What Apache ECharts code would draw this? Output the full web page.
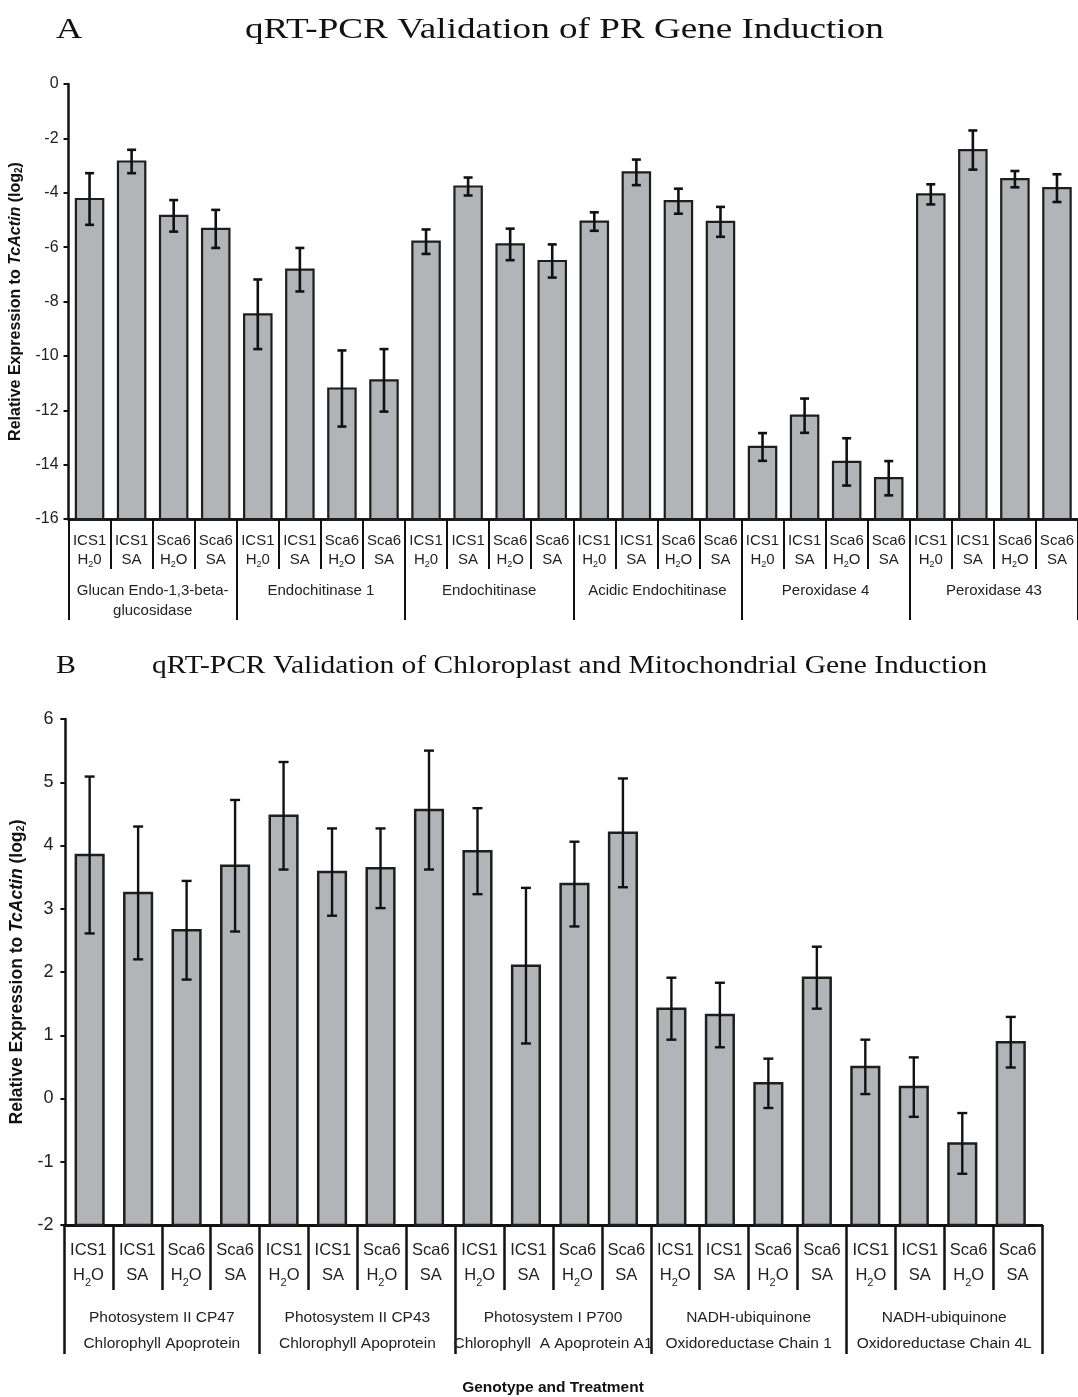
<!DOCTYPE html>
<html>
<head>
<meta charset="utf-8">
<script src="https://cdn.jsdelivr.net/npm/echarts@6/dist/echarts.min.js"></script>
<style>
  html, body { margin: 0; padding: 0; background: #fff; }
  #chart { width: 1078px; height: 1397px; }
</style>
</head>
<body>
<div id="chart"></div>
<script>
// Panel A: PR genes
const genesA = [
  'Glucan Endo-1,3-beta-\nglucosidase',
  'Endochitinase 1',
  'Endochitinase',
  'Acidic Endochitinase',
  'Peroxidase 4',
  'Peroxidase 43'
];
const conditionsA = ['ICS1\nH_20', 'ICS1\nSA', 'Sca6\nH_2O', 'Sca6\nSA'];
const valuesA = [
  -4.23, -2.85, -4.85, -5.33,
  -8.47, -6.83, -11.2, -10.9,
  -5.80, -3.77, -5.90, -6.51,
  -5.06, -3.25, -4.31, -5.07,
  -13.35, -12.2, -13.9, -14.5,
  -4.06, -2.43, -3.50, -3.83
];
const errorsA = [
  0.95, 0.43, 0.58, 0.70,
  1.28, 0.80, 1.40, 1.15,
  0.45, 0.33, 0.58, 0.61,
  0.34, 0.47, 0.46, 0.55,
  0.51, 0.63, 0.87, 0.63,
  0.37, 0.72, 0.30, 0.51
];
const ticksA = { min: -16, max: 0, interval: 2 };

// Panel B: chloroplast and mitochondrial genes
const genesB = [
  'Photosystem II CP47\nChlorophyll Apoprotein',
  'Photosystem II CP43\nChlorophyll Apoprotein',
  'Photosystem I P700\nChlorophyll  A Apoprotein A1',
  'NADH-ubiquinone\nOxidoreductase Chain 1',
  'NADH-ubiquinone\nOxidoreductase Chain 4L'
];
const conditionsB = ['ICS1\nH_2O', 'ICS1\nSA', 'Sca6\nH_2O', 'Sca6\nSA'];
const valuesB = [
  3.85, 3.25, 2.66, 3.68,
  4.47, 3.58, 3.64, 4.56,
  3.91, 2.10, 3.39, 4.20,
  1.42, 1.32, 0.24, 1.91,
  0.50, 0.18, -0.71, 0.89
];
const errorsB = [
  1.24, 1.05, 0.78, 1.04,
  0.85, 0.69, 0.63, 0.94,
  0.68, 1.23, 0.67, 0.86,
  0.49, 0.51, 0.39, 0.49,
  0.43, 0.47, 0.48, 0.40
];
const ticksB = { min: -2, max: 6, interval: 1 };

const titleA = 'qRT-PCR Validation of PR Gene Induction';
const titleB = 'qRT-PCR Validation of Chloroplast and Mitochondrial Gene Induction';
const xNameB = 'Genotype and Treatment';

const SANS = '"Liberation Sans", Arial, sans-serif';
const SERIF = '"Liberation Serif", "Times New Roman", serif';

// one category per bar, repeating the four conditions for every gene
function expand(genes, conds) {
  const out = [];
  genes.forEach(() => conds.forEach(c => out.push(c)));
  return out;
}
const catsA = expand(genesA, conditionsA);
const catsB = expand(genesB, conditionsB);

// "_2" marks a subscript digit
function condFormatter(v) {
  return v.split('\n').map(line => {
    const m = line.match(/^(.*)_(\d)(.*)$/);
    if (m) return '{t|' + m[1] + '}{s|' + m[2] + '}{t|' + m[3] + '}';
    return '{t|' + line + '}';
  }).join('\n');
}

const Y_NAME = '{b|Relative Expression to }{i|TcActin}{b| (log}{s|2}{b|)}';
function yNameRich(size) {
  return {
    b: { fontFamily: SANS, fontWeight: 'bold', fontSize: size, color: '#111' },
    i: { fontFamily: SANS, fontWeight: 'bold', fontStyle: 'italic', fontSize: size, color: '#111' },
    s: { fontFamily: SANS, fontWeight: 'bold', fontSize: Math.round(size * 0.62), color: '#111', verticalAlign: 'bottom', padding: [Math.round(size * 0.45), 0, 0, 0] }
  };
}

// bar from the axis floor up to the value, plus a capped error bar
function makeRender(floor, widthRatio, lineW, capHalf, edgeW) {
  return function (params, api) {
    const i = api.value(0);
    const v = api.value(1);
    const e = api.value(2);
    const base = api.coord([i, floor]);
    const top = api.coord([i, v]);
    const w = api.size([1, 0])[0] * widthRatio;
    const hi = api.coord([i, v + e]);
    const lo = api.coord([i, v - e]);
    const x = top[0];
    const ls = { stroke: '#111', lineWidth: lineW };
    return {
      type: 'group',
      children: [
        {
          type: 'rect',
          shape: { x: x - w / 2, y: top[1], width: w, height: base[1] - top[1] },
          style: { fill: '#b3b4b8', stroke: '#1e1e1e', lineWidth: edgeW }
        },
        { type: 'line', shape: { x1: x, y1: hi[1], x2: x, y2: lo[1] }, style: ls },
        { type: 'line', shape: { x1: x - capHalf, y1: hi[1], x2: x + capHalf, y2: hi[1] }, style: ls },
        { type: 'line', shape: { x1: x - capHalf, y1: lo[1], x2: x + capHalf, y2: lo[1] }, style: ls }
      ]
    };
  };
}

const axisLine = { show: true, onZero: false, lineStyle: { color: '#111', width: 2.5 } };
const hidden = { show: false };

const chart = echarts.init(document.getElementById('chart'), null, { renderer: 'canvas' });

chart.setOption({
  animation: false,
  backgroundColor: '#fff',
  graphic: [
    { type: 'text', x: 56, y: 16, scaleX: 1.25, style: { text: 'A', font: '29px ' + SERIF, fill: '#111' } },
    { type: 'text', x: 245, y: 16, scaleX: 1.28, style: { text: titleA, font: '29px ' + SERIF, fill: '#111' } },
    { type: 'text', x: 56, y: 653, scaleX: 1.15, style: { text: 'B', font: '26px ' + SERIF, fill: '#111' } },
    { type: 'text', x: 152, y: 654, scaleX: 1.18, style: { text: titleB, font: '25px ' + SERIF, fill: '#111' } }
  ],
  grid: [
    { left: 65, top: 84, width: 1013, height: 435, containLabel: false },
    // bars of panel B
    { left: 60, top: 719, width: 975, height: 506, containLabel: false },
    // label table of panel B
    { left: 64, top: 719, width: 978, height: 506, containLabel: false }
  ],
  xAxis: [
    {
      type: 'category', gridIndex: 0, position: 'bottom', data: catsA,
      axisLine: axisLine,
      axisTick: { show: true, interval: 0, length: 50, lineStyle: { color: '#111', width: 2 } },
      axisLabel: {
        interval: 0, margin: 12, lineHeight: 19, formatter: condFormatter,
        rich: {
          t: { fontFamily: SANS, fontSize: 15, color: '#222', lineHeight: 19 },
          s: { fontFamily: SANS, fontSize: 9, color: '#222', verticalAlign: 'bottom', padding: [6, 0, 0, 0] }
        }
      }
    },
    {
      type: 'category', gridIndex: 0, position: 'bottom', data: genesA,
      axisLine: axisLine,
      axisTick: { show: true, interval: 0, length: 101, lineStyle: { color: '#111', width: 2 } },
      axisLabel: { interval: 0, margin: 62, lineHeight: 20, fontFamily: SANS, fontSize: 15, color: '#222' }
    },
    {
      type: 'category', gridIndex: 1, position: 'bottom', data: catsB,
      axisLine: axisLine, axisTick: hidden, axisLabel: hidden
    },
    {
      type: 'category', gridIndex: 2, position: 'bottom', data: catsB,
      axisLine: axisLine,
      axisTick: { show: true, interval: 0, length: 65, lineStyle: { color: '#111', width: 2.5 } },
      axisLabel: {
        interval: 0, margin: 13, lineHeight: 25, formatter: condFormatter,
        rich: {
          t: { fontFamily: SANS, fontSize: 16.5, color: '#222', lineHeight: 25 },
          s: { fontFamily: SANS, fontSize: 11, color: '#222', verticalAlign: 'bottom', padding: [8, 0, 0, 0] }
        }
      }
    },
    {
      type: 'category', gridIndex: 2, position: 'bottom', data: genesB,
      name: xNameB, nameLocation: 'middle', nameGap: 155,
      nameTextStyle: { fontFamily: SANS, fontWeight: 'bold', fontSize: 15.5, color: '#111' },
      axisLine: axisLine,
      axisTick: { show: true, interval: 0, length: 129, lineStyle: { color: '#111', width: 2.5 } },
      axisLabel: { interval: 0, margin: 80, lineHeight: 26, fontFamily: SANS, fontSize: 15.5, color: '#222' }
    }
  ],
  yAxis: [
    {
      type: 'value', gridIndex: 0, min: ticksA.min, max: ticksA.max, interval: ticksA.interval,
      axisLine: axisLine,
      axisTick: { show: true, length: 5, lineStyle: { color: '#111', width: 2 } },
      splitLine: hidden,
      axisLabel: { margin: 10, fontFamily: SANS, fontSize: 16, color: '#222' },
      name: Y_NAME, nameLocation: 'middle', nameRotate: 90, nameGap: 42,
      nameTextStyle: { rich: yNameRich(16) }
    },
    {
      type: 'value', gridIndex: 1, min: ticksB.min, max: ticksB.max, interval: ticksB.interval,
      axisLine: axisLine,
      axisTick: { show: true, length: 5, lineStyle: { color: '#111', width: 2 } },
      splitLine: hidden,
      axisLabel: { margin: 12, fontFamily: SANS, fontSize: 18, color: '#222' },
      name: Y_NAME, nameLocation: 'middle', nameRotate: 90, nameGap: 35,
      nameTextStyle: { rich: yNameRich(17.5) }
    },
    {
      type: 'value', gridIndex: 2, min: ticksB.min, max: ticksB.max, interval: ticksB.interval,
      show: false
    }
  ],
  series: [
    {
      type: 'custom', xAxisIndex: 0, yAxisIndex: 0,
      renderItem: makeRender(ticksA.min, 0.65, 2.6, 4.5, 2.2),
      encode: { x: 0, y: 1 },
      data: valuesA.map((v, i) => [i, v, errorsA[i]])
    },
    {
      type: 'custom', xAxisIndex: 2, yAxisIndex: 1,
      renderItem: makeRender(ticksB.min, 0.57, 2.4, 5, 2.5),
      encode: { x: 0, y: 1 },
      data: valuesB.map((v, i) => [i, v, errorsB[i]])
    }
  ]
});
</script>
</body>
</html>
